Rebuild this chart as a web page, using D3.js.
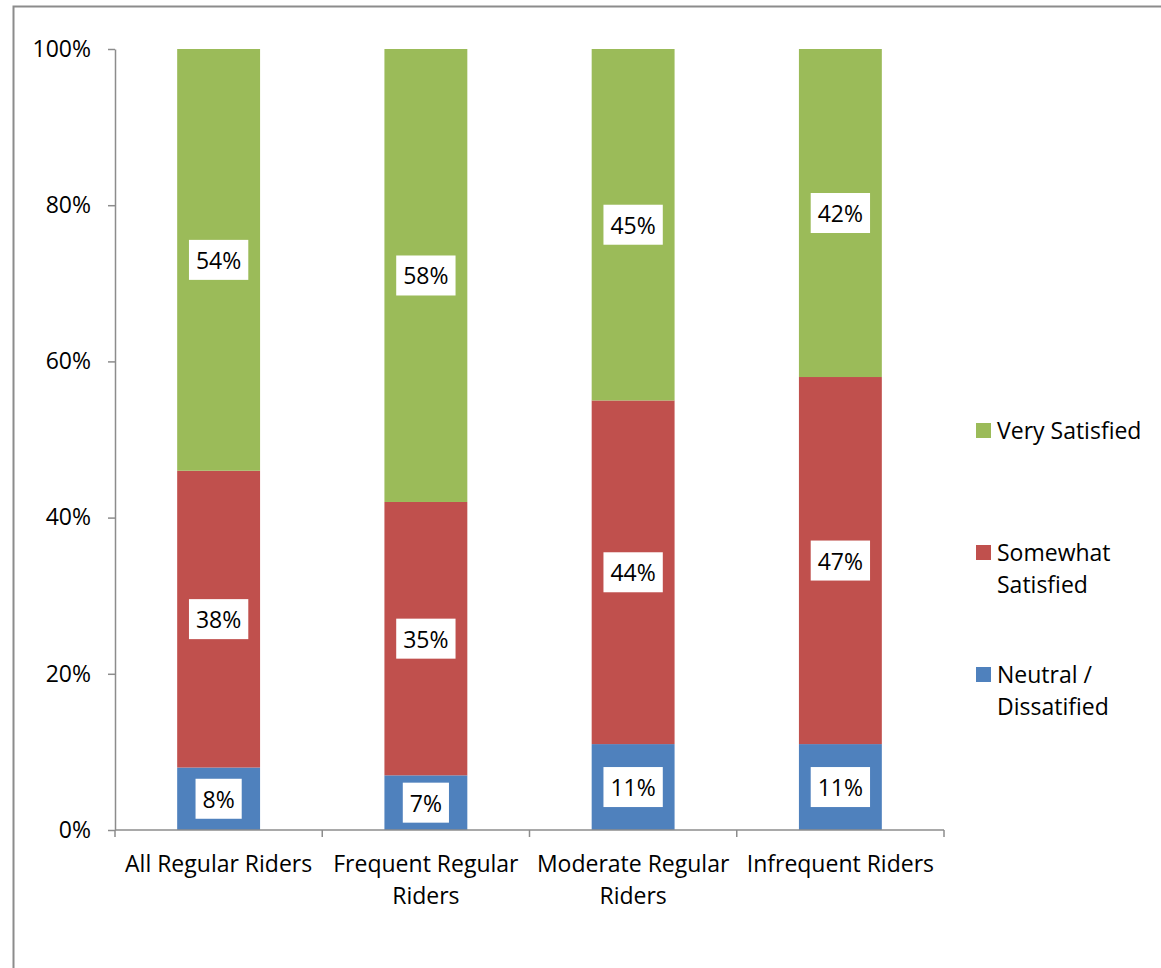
<!DOCTYPE html>
<html>
<head>
<meta charset="utf-8">
<script src="https://cdn.jsdelivr.net/npm/d3@7"></script>
<style>
  html, body { margin: 0; padding: 0; background: #fff; }
  svg { display: block; }
  text { font-family: "Open Sans", "Noto Sans", sans-serif; fill: #000; }
</style>
</head>
<body>
<svg id="chart" width="1161" height="968"></svg>
<script>
// Rider groups along the x axis
const categories = ["All Regular Riders", "Frequent Regular Riders", "Moderate Regular Riders", "Infrequent Riders"];
// Stack order, bottom to top
const seriesNames = ["Neutral / Dissatified", "Somewhat Satisfied", "Very Satisfied"];
const neutral = [8, 7, 11, 11];
const somewhat = [38, 35, 44, 47];
const very = [54, 58, 45, 42];
const yTicks = [0, 20, 40, 60, 80, 100];
const colors = ["#4f81bd", "#c0504d", "#9bbb59"];
// Legend rows: top to bottom, each with its wrapped lines
const legendLines = [["Very Satisfied"], ["Somewhat", "Satisfied"], ["Neutral /", "Dissatified"]];

const svg = d3.select("#chart");
const fontSize = 23;

// outer frame
svg.append("rect")
  .attr("x", 13.5).attr("y", 6.5)
  .attr("width", 1200).attr("height", 1000)
  .attr("fill", "#fff").attr("stroke", "#8c8c8c").attr("stroke-width", 2);

const plot = { left: 115, right: 944, top: 49, bottom: 830 };

const x = d3.scaleBand().domain(categories)
  .range([plot.left, plot.right]).paddingInner(0.6).paddingOuter(0.3);
const xOuter = d3.scaleBand().domain(categories).range([plot.left, plot.right]);
const y = d3.scaleLinear().domain([0, 100]).range([plot.bottom, plot.top]);

const rows = categories.map((c, i) => ({ cat: c, s0: neutral[i], s1: somewhat[i], s2: very[i] }));
const stack = d3.stack().keys(["s0", "s1", "s2"]);
const layers = stack(rows);

// stacked bars
const g = svg.append("g");
layers.forEach((layer, k) => {
  g.selectAll(null).data(layer).enter().append("rect")
    .attr("x", d => x(d.data.cat))
    .attr("width", x.bandwidth())
    .attr("y", d => y(d[1]))
    .attr("height", d => y(d[0]) - y(d[1]))
    .attr("fill", colors[k]);
});

// value labels in white boxes
layers.forEach((layer, k) => {
  layer.forEach(d => {
    const v = d[1] - d[0];
    const cx = x(d.data.cat) + x.bandwidth() / 2;
    const cy = (y(d[0]) + y(d[1])) / 2;
    const lg = svg.append("g");
    const t = lg.append("text")
      .attr("x", cx).attr("y", cy)
      .attr("text-anchor", "middle").attr("dominant-baseline", "central")
      .attr("font-size", fontSize)
      .text(v + "%");
    const w = t.node().getComputedTextLength();
    lg.insert("rect", "text")
      .attr("x", cx - w / 2 - 7).attr("y", cy - 20)
      .attr("width", w + 14).attr("height", 40)
      .attr("fill", "#fff");
  });
});

// y axis
const yAxis = d3.axisLeft(y).tickValues(yTicks).tickFormat(d => d + "%").tickSize(7).tickSizeOuter(0);
const ya = svg.append("g").attr("transform", `translate(${plot.left},0)`).call(yAxis);
ya.attr("font-size", null).attr("font-family", null);
ya.select(".domain").attr("stroke", "#8c8c8c").attr("stroke-width", 1.5);
ya.selectAll(".tick line").attr("stroke", "#8c8c8c").attr("stroke-width", 1.5);
ya.selectAll(".tick text").attr("font-size", fontSize).attr("x", -24).attr("fill", "#000");

// x axis line with boundary ticks
svg.append("line")
  .attr("x1", plot.left).attr("x2", plot.right)
  .attr("y1", plot.bottom).attr("y2", plot.bottom)
  .attr("stroke", "#8c8c8c").attr("stroke-width", 1.5);
const bounds = categories.map(c => xOuter(c)).concat([plot.right]);
svg.selectAll(null).data(bounds).enter().append("line")
  .attr("x1", d => d).attr("x2", d => d)
  .attr("y1", plot.bottom).attr("y2", plot.bottom + 7)
  .attr("stroke", "#8c8c8c").attr("stroke-width", 1.5);

// category labels, wrapped to the band width
categories.forEach(c => {
  const cx = xOuter(c) + xOuter.bandwidth() / 2;
  const t = svg.append("text").attr("x", cx).attr("y", 872)
    .attr("text-anchor", "middle").attr("font-size", fontSize);
  const words = c.split(" ");
  let line = [], lineNo = 0;
  let ts = t.append("tspan").attr("x", cx).attr("y", 872);
  words.forEach(wd => {
    line.push(wd);
    ts.text(line.join(" "));
    if (ts.node().getComputedTextLength() > xOuter.bandwidth() - 2 && line.length > 1) {
      line.pop();
      ts.text(line.join(" "));
      line = [wd];
      lineNo++;
      ts = t.append("tspan").attr("x", cx).attr("y", 872 + lineNo * 32).text(wd);
    }
  });
});

// legend
const legendY = [430, 552, 674];
legendLines.forEach((lines, i) => {
  const colorIdx = 2 - i;
  svg.append("rect")
    .attr("x", 976).attr("y", legendY[i] - 7)
    .attr("width", 15).attr("height", 15)
    .attr("fill", colors[colorIdx]);
  const t = svg.append("text").attr("font-size", fontSize);
  lines.forEach((ln, j) => {
    t.append("tspan").attr("x", 997).attr("y", legendY[i] + j * 32)
      .attr("dominant-baseline", "central").text(ln);
  });
});
</script>
</body>
</html>
